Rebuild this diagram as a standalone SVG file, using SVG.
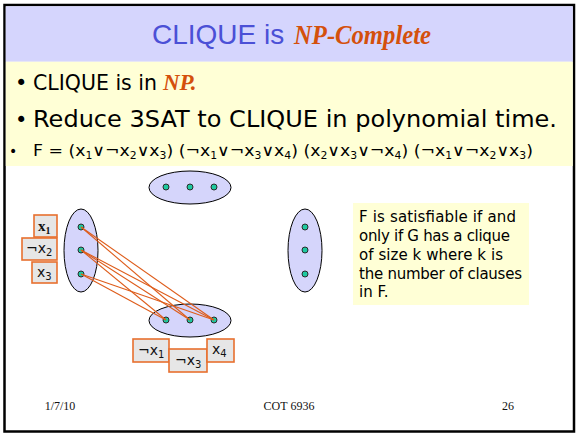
<svg xmlns="http://www.w3.org/2000/svg" width="576" height="433" viewBox="0 0 576 433">
<defs>
<style>
.ell{fill:#d5d5fb;stroke:#000;stroke-width:1}
.dot{fill:#1ec9a0;stroke:#2a2a2a;stroke-width:1}
.edge{stroke:#de5c1a;stroke-width:1.1;fill:none}
.lbl{fill:#e6e6e6;stroke:#e8702f;stroke-width:1.6}
.lt{font-family:"DejaVu Sans",Verdana,sans-serif;font-size:14px;fill:#111}
.sub{font-size:10px}
.body{font-family:"DejaVu Sans","Liberation Sans",sans-serif;fill:#000}
.script{font-family:"Liberation Serif",serif;font-style:italic;font-weight:bold;fill:#d4500c}
.foot{font-family:"Liberation Serif","Times New Roman",serif;font-size:12px;fill:#111;text-anchor:middle}
</style>
</defs>
<rect x="4.5" y="5" width="569.5" height="426.5" fill="#fff" stroke="#000" stroke-width="2.5"/>
<rect x="5.75" y="6.25" width="567" height="55.5" fill="#d5d5fd"/>
<rect x="5.75" y="61.75" width="567" height="104.25" fill="#ffffd6"/>
<g id="title">
<text x="152" y="44" font-family="Liberation Sans,Arial,sans-serif" font-size="28" fill="#4b50d6">CLIQUE is</text>
<text x="294" y="44" class="script" font-size="28" textLength="137" lengthAdjust="spacingAndGlyphs">NP-Complete</text>
</g>
<g id="bullets">
<text x="15" y="90" class="body" font-size="21">•</text>
<text x="33" y="90" class="body" font-size="20.5">CLIQUE is in<tspan class="script" dx="6" font-size="23">NP.</tspan></text>
<text x="15" y="127" class="body" font-size="21">•</text>
<text x="33" y="127" class="body" font-size="22.5" textLength="524" lengthAdjust="spacingAndGlyphs">Reduce 3SAT to CLIQUE in polynomial time.</text>
<text x="9" y="156" class="body" font-size="14">•</text>
<text x="33" y="156" class="body" font-size="16" textLength="500" lengthAdjust="spacingAndGlyphs">F = (x<tspan class="sub" dy="3">1</tspan><tspan dy="-3">∨¬x</tspan><tspan class="sub" dy="3">2</tspan><tspan dy="-3">∨x</tspan><tspan class="sub" dy="3">3</tspan><tspan dy="-3">) (¬x</tspan><tspan class="sub" dy="3">1</tspan><tspan dy="-3">∨¬x</tspan><tspan class="sub" dy="3">3</tspan><tspan dy="-3">∨x</tspan><tspan class="sub" dy="3">4</tspan><tspan dy="-3">) (x</tspan><tspan class="sub" dy="3">2</tspan><tspan dy="-3">∨x</tspan><tspan class="sub" dy="3">3</tspan><tspan dy="-3">∨¬x</tspan><tspan class="sub" dy="3">4</tspan><tspan dy="-3">) (¬x</tspan><tspan class="sub" dy="3">1</tspan><tspan dy="-3">∨¬x</tspan><tspan class="sub" dy="3">2</tspan><tspan dy="-3">∨x</tspan><tspan class="sub" dy="3">3</tspan><tspan dy="-3">)</tspan></text>
</g>
<g id="clause-top">
<ellipse class="ell" cx="190" cy="187.5" rx="41" ry="16.5"/>
<circle class="dot" cx="166" cy="187" r="3"/>
<circle class="dot" cx="190" cy="187" r="3"/>
<circle class="dot" cx="214" cy="187" r="3"/>
</g>
<g id="clause-left">
<ellipse class="ell" cx="81" cy="250.5" rx="17" ry="41.5"/>
<circle class="dot" cx="81" cy="227" r="3"/>
<circle class="dot" cx="81" cy="250" r="3"/>
<circle class="dot" cx="81" cy="274" r="3"/>
</g>
<g id="clause-bottom">
<ellipse class="ell" cx="190" cy="320.5" rx="41" ry="16.5"/>
<circle class="dot" cx="166" cy="320" r="3"/>
<circle class="dot" cx="190" cy="320" r="3"/>
<circle class="dot" cx="214" cy="320" r="3"/>
</g>
<g id="clause-right">
<ellipse class="ell" cx="305" cy="250.5" rx="17" ry="41.5"/>
<circle class="dot" cx="305" cy="227" r="3"/>
<circle class="dot" cx="305" cy="250" r="3"/>
<circle class="dot" cx="305" cy="274" r="3"/>
</g>
<g id="connectors">
<line class="edge" x1="81" y1="227" x2="190" y2="320"/>
<line class="edge" x1="81" y1="227" x2="214" y2="320"/>
<line class="edge" x1="81" y1="250" x2="166" y2="320"/>
<line class="edge" x1="81" y1="250" x2="190" y2="320"/>
<line class="edge" x1="81" y1="250" x2="214" y2="320"/>
<line class="edge" x1="81" y1="274" x2="166" y2="320"/>
<line class="edge" x1="81" y1="274" x2="214" y2="320"/>
</g>
<g id="label-x1">
<rect class="lbl" x="34" y="215" width="23" height="22"/>
<text x="38" y="231" font-family="Liberation Serif,serif" font-weight="bold" font-size="15" fill="#111">x<tspan class="sub" dy="3" font-size="10">1</tspan></text>
</g>
<g id="label-nx2">
<rect class="lbl" x="22" y="238" width="35" height="22"/>
<text x="26" y="253" class="lt">¬x<tspan class="sub" dy="3">2</tspan></text>
</g>
<g id="label-x3">
<rect class="lbl" x="32" y="262" width="25" height="21"/>
<text x="37" y="277" class="lt">x<tspan class="sub" dy="3">3</tspan></text>
</g>
<g id="label-nx1">
<rect class="lbl" x="133" y="339" width="36" height="23"/>
<text x="138" y="355" class="lt">¬x<tspan class="sub" dy="3">1</tspan></text>
</g>
<g id="label-nx3">
<rect class="lbl" x="169" y="349" width="38" height="23"/>
<text x="175" y="365" class="lt">¬x<tspan class="sub" dy="3">3</tspan></text>
</g>
<g id="label-x4">
<rect class="lbl" x="207" y="339" width="27" height="23"/>
<text x="212" y="354" class="lt">x<tspan class="sub" dy="3">4</tspan></text>
</g>
<g id="note">
<rect x="353" y="203" width="176" height="102" fill="#ffffd6"/>
<text class="body" font-size="15">
<tspan x="359" y="222" textLength="157" lengthAdjust="spacing">F is satisfiable if and</tspan>
<tspan x="359" y="241" textLength="151" lengthAdjust="spacing">only if G has a clique</tspan>
<tspan x="359" y="260" textLength="144" lengthAdjust="spacing">of size k where k is</tspan>
<tspan x="359" y="279" textLength="163" lengthAdjust="spacing">the number of clauses</tspan>
<tspan x="359" y="297">in F.</tspan>
</text>
</g>
<g id="footer">
<text x="60" y="410" class="foot">1/7/10</text>
<text x="289" y="410" class="foot">COT 6936</text>
<text x="508" y="410" class="foot">26</text>
</g>
</svg>
